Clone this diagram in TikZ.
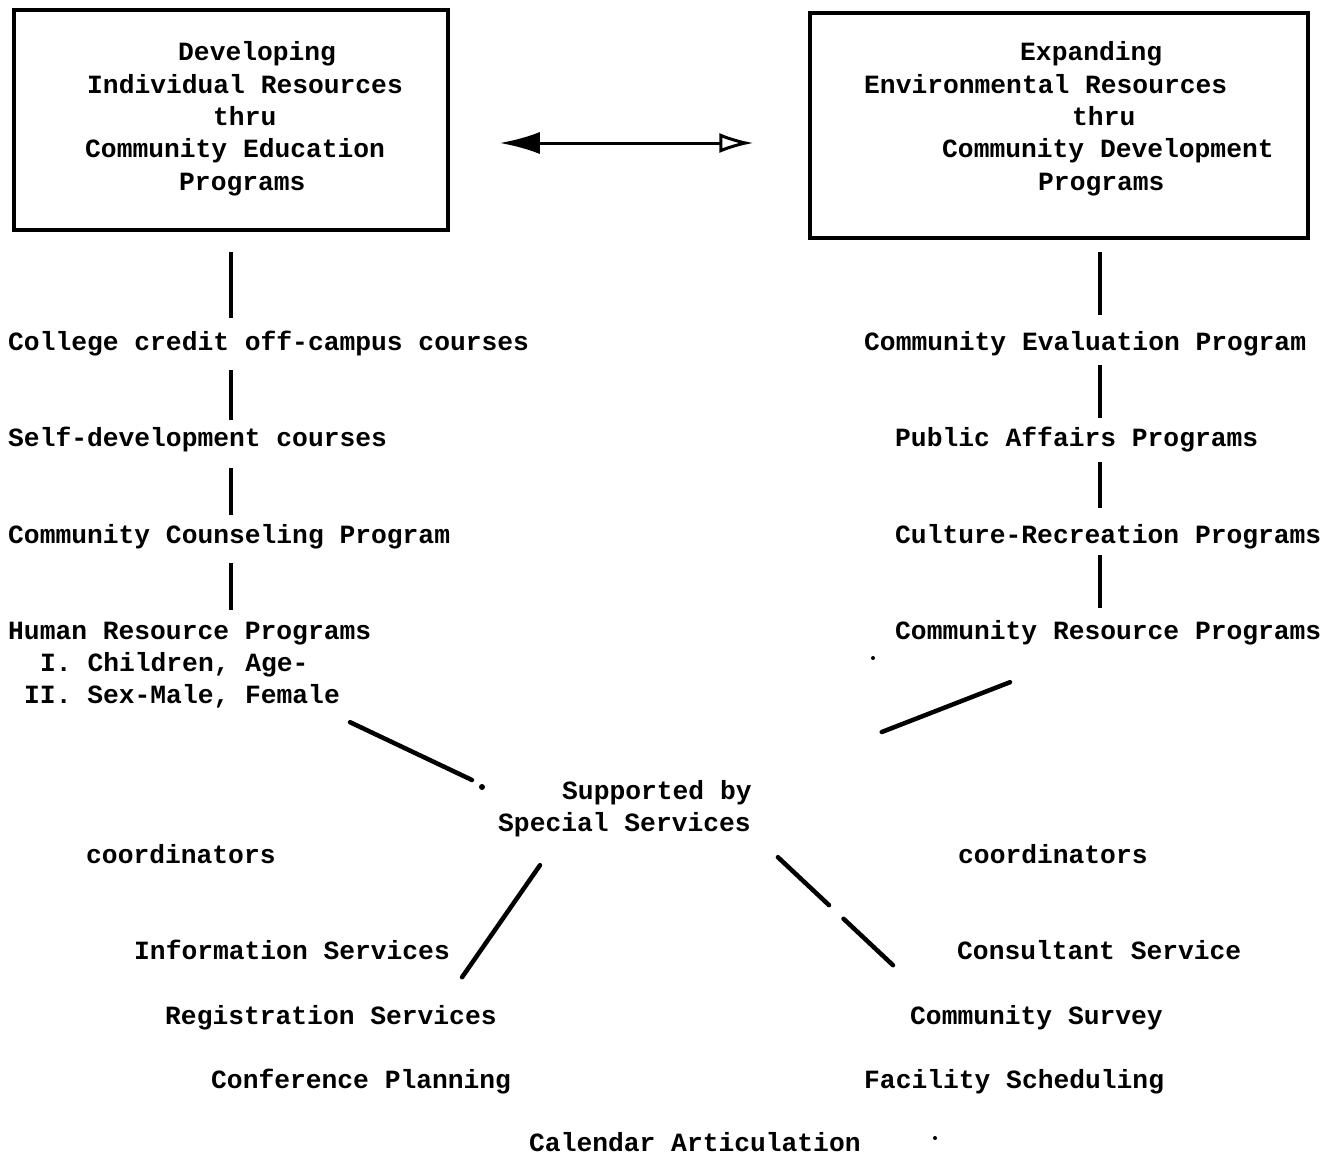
\documentclass[tikz,border=0pt]{standalone}
\usepackage{fontspec}
\setmainfont{Liberation Mono}
\usetikzlibrary{arrows.meta,calc}
\begin{document}
\begin{tikzpicture}[x=1pt,y=-1pt,
  txt/.style={anchor=base west, inner sep=0pt, text height=18pt, text depth=6pt,
              font=\fontsize{26.3}{32}\bfseries\selectfont},
  box/.style={draw, line width=3.5pt, inner sep=0pt},
  vline/.style={line width=4pt},
  diag/.style={line width=4.5pt, line cap=round},
  dblarrow/.style={line width=3pt,
    {Latex[length=40pt,width=22pt]}-{Latex[open,length=34pt,width=20pt]}}]
\useasboundingbox (0,0) rectangle (1330,1156);
% boxes
\node[box, minimum width=434pt, minimum height=220pt] (boxL) at (231,120) {};
\node[box, minimum width=498pt, minimum height=225pt] (boxR) at (1059,125.5) {};
% box texts
\node[txt] (l1) at (178,60) {Developing};
\node[txt] (l2) at (87,93) {Individual Resources};
\node[txt] (l3) at (213,125) {thru};
\node[txt] (l4) at (85,157) {Community Education};
\node[txt] (l5) at (179,190) {Programs};
\node[txt] (r1) at (1020,60) {Expanding};
\node[txt] (r2) at (864,93) {Environmental Resources};
\node[txt] (r3) at (1072,125) {thru};
\node[txt] (r4) at (942,157) {Community Development};
\node[txt] (r5) at (1038,190) {Programs};
% arrow between boxes
\draw[dblarrow] ($(boxL.east)+(50,23)$) -- ($(boxR.west)+(-55,17.5)$);
% left column
\node[txt] (college) at (8,350) {College credit off-campus courses};
\node[txt] (self) at (8,446) {Self-development courses};
\node[txt] (couns) at (8,543) {Community Counseling Program};
\node[txt] (human) at (8,639) {Human Resource Programs};
\node[txt] (child) at (40,671) {I. Children, Age-};
\node[txt] (sex) at (24,703) {II. Sex-Male, Female};
% right column
\node[txt] (eval) at (864,350) {Community Evaluation Program};
\node[txt] (public) at (895,446) {Public Affairs Programs};
\node[txt] (culture) at (895,543) {Culture-Recreation Programs};
\node[txt] (resource) at (895,639) {Community Resource Programs};
% centre
\node[txt] (sup1) at (562,799) {Supported by};
\node[txt] (sup2) at (498,831) {Special Services};
\node[txt] (coordL) at (86,863) {coordinators};
\node[txt] (coordR) at (958,863) {coordinators};
\node[txt] (info) at (134,959) {Information Services};
\node[txt] (consult) at (957,959) {Consultant Service};
\node[txt] (regis) at (165,1024) {Registration Services};
\node[txt] (survey) at (910,1024) {Community Survey};
\node[txt] (confer) at (211,1088) {Conference Planning};
\node[txt] (facil) at (864,1088) {Facility Scheduling};
\node[txt] (calendar) at (529,1151) {Calendar Articulation};
% vertical connectors
\coordinate (cl) at (231,0);
\coordinate (cr) at (1100,0);
\draw[vline, shorten <=20pt, shorten >=14pt] (boxL.south -| cl) -- (college.north -| cl);
\draw[vline, shorten <=14pt, shorten >=8pt] (college.south -| cl) -- (self.north -| cl);
\draw[vline, shorten <=16pt, shorten >=10pt] (self.south -| cl) -- (couns.north -| cl);
\draw[vline, shorten <=14pt, shorten >=11pt] (couns.south -| cl) -- (human.north -| cl);
\draw[vline, shorten <=12pt, shorten >=17pt] (boxR.south -| cr) -- (eval.north -| cr);
\draw[vline, shorten <=9pt, shorten >=10pt] (eval.south -| cr) -- (public.north -| cr);
\draw[vline, shorten <=10pt, shorten >=17pt] (public.south -| cr) -- (culture.north -| cr);
\draw[vline, shorten <=6pt, shorten >=13pt] (culture.south -| cr) -- (resource.north -| cr);
% diagonal connectors
\draw[diag] ($(sex.south east)+(10,13)$) -- ($(sup1.west)+(-90,-13)$);
\fill ($(sup1.west)+(-80,-6)$) circle (3pt);
\draw[diag] ($(resource.south west)+(115,37)$) -- ($(sup1.east)+(130,-61)$);
\draw[diag] ($(sup2.south west)+(42,28)$) -- ($(info.south east)+(12,12)$);
\draw[diag, dash pattern=on 70pt off 20pt on 90pt] ($(sup2.south east)+(27,20)$) -- ($(consult.south west)+(-64,0)$);
% stray specks
\fill (873,658) circle (2pt);
\fill (935,1138) circle (2pt);
\end{tikzpicture}
\end{document}
